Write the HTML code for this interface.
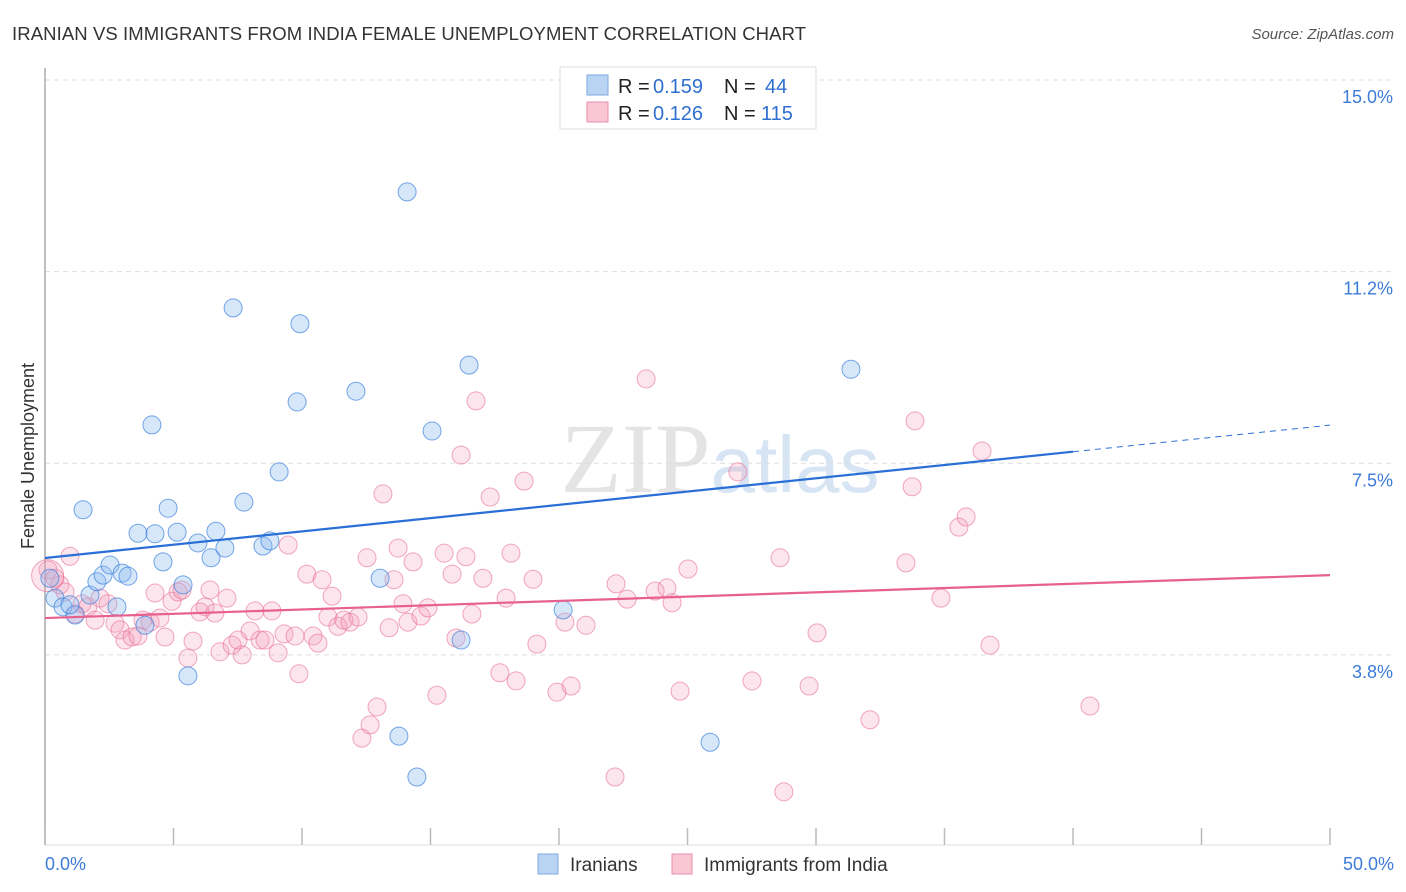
<!DOCTYPE html>
<html><head><meta charset="utf-8"><style>
body{margin:0;background:#fff;font-family:"Liberation Sans",sans-serif;}
#wrap{position:relative;width:1406px;height:892px;overflow:hidden}
</style></head><body>
<div id="wrap">
<svg id="svg" width="1406" height="892" xmlns="http://www.w3.org/2000/svg">
<text x="12" y="40" font-size="18.5" fill="#333" textLength="794">IRANIAN VS IMMIGRANTS FROM INDIA FEMALE UNEMPLOYMENT CORRELATION CHART</text>
<text x="1394" y="39" font-size="15" fill="#555" font-style="italic" text-anchor="end">Source: ZipAtlas.com</text>
<text x="720" y="492" font-size="100" fill="#e4e4e4" text-anchor="middle" font-family="Liberation Serif">ZIP<tspan fill="#d6e4f4" font-family="Liberation Sans" font-size="80">atlas</tspan></text>
<text transform="translate(34,456) rotate(-90)" font-size="18" fill="#333" text-anchor="middle">Female Unemployment</text>
<g id="grid"></g><g id="pts"></g><g id="lines"></g>
<g>
<rect x="560" y="67" width="256" height="62" fill="#fff" stroke="#ddd"/>
<rect x="587" y="75" width="21" height="20" fill="#b9d3f3" stroke="#7aa7e0"/>
<rect x="587" y="102" width="21" height="20" fill="#f9c6d4" stroke="#eb8fab"/>
<text y="93" font-size="20" fill="#222"><tspan x="618">R =</tspan><tspan x="653" fill="#2f6fd0">0.159</tspan><tspan x="724">N =</tspan><tspan x="765" fill="#2f6fd0">44</tspan></text>
<text y="120" font-size="20" fill="#222"><tspan x="618">R =</tspan><tspan x="653" fill="#2f6fd0">0.126</tspan><tspan x="724">N =</tspan><tspan x="761" fill="#2f6fd0">115</tspan></text>
</g>
<g>
<rect x="538" y="854" width="20" height="20" fill="#b9d3f3" stroke="#7aa7e0"/>
<text x="570" y="871" font-size="19" fill="#333">Iranians</text>
<rect x="672" y="854" width="20" height="20" fill="#f9c6d4" stroke="#eb8fab"/>
<text x="704" y="871" font-size="19" fill="#333">Immigrants from India</text>
</g>
</svg>
</div>
<script>
const yTicks=[15.0,11.25,7.5,3.75];
const yTickLabels=["15.0%","11.2%","7.5%","3.8%"];
const xLabels=["0.0%","50.0%"];
const blueX=[0.39,0.70,1.17,1.48,1.75,2.02,2.26,2.53,2.80,3.00,3.23,3.62,3.89,4.16,4.28,4.59,4.79,5.14,5.37,5.56,5.95,6.46,6.65,7.00,7.32,7.74,8.48,8.75,9.11,9.81,9.92,12.10,13.04,13.77,14.09,14.47,15.06,16.19,16.50,20.16,25.88,31.36,0.19,0.97];
const blueY=[4.86,4.69,4.53,6.59,4.92,5.18,5.31,5.51,4.69,5.35,5.29,6.13,4.33,8.25,6.12,5.57,6.62,6.15,5.12,3.34,5.94,5.65,6.17,5.84,10.54,6.74,5.88,5.98,7.33,8.70,10.23,8.91,5.25,2.16,12.81,1.36,8.13,4.04,9.42,4.63,2.04,9.34,5.25,4.73];
const pinkX=[0.12,0.39,0.58,0.78,0.97,1.17,1.44,1.67,1.95,2.14,2.45,2.72,2.92,3.11,3.39,3.62,3.81,4.09,4.28,4.47,4.67,4.94,5.18,5.33,5.56,5.76,6.03,6.23,6.42,6.61,6.81,7.08,7.28,7.51,7.67,7.98,8.17,8.37,8.56,8.83,9.07,9.30,9.46,9.73,9.88,10.19,10.43,10.62,10.78,11.01,11.17,11.40,11.63,11.87,12.18,12.33,12.53,12.65,12.92,13.15,13.39,13.58,13.74,13.93,14.12,14.32,14.63,14.90,15.25,15.53,15.84,15.99,16.19,16.38,16.61,16.77,17.04,17.32,17.70,17.94,18.13,18.33,18.64,18.99,19.14,19.92,20.23,20.47,21.05,22.18,22.22,22.65,23.39,23.74,24.20,24.40,24.71,25.02,26.96,27.51,28.60,28.75,29.73,30.04,32.10,33.50,33.74,33.85,34.86,35.56,35.84,36.46,36.77,40.66,0.1];
const pinkY=[5.41,5.25,5.12,4.98,5.68,4.55,4.75,4.69,4.43,4.86,4.75,4.37,4.24,4.04,4.10,4.12,4.43,4.39,4.96,4.47,4.10,4.80,4.98,5.02,3.69,4.02,4.59,4.69,5.02,4.57,3.81,4.86,3.94,4.04,3.75,4.22,4.61,4.04,4.04,4.61,3.79,4.16,5.90,4.12,3.38,5.33,4.12,3.98,5.22,4.49,4.90,4.31,4.43,4.39,4.49,2.12,5.65,2.38,2.73,6.90,4.28,5.22,5.84,4.75,4.39,5.57,4.51,4.67,2.96,5.74,5.33,4.08,7.66,5.67,4.55,8.72,5.25,6.84,3.40,4.86,5.74,3.24,7.15,5.23,3.96,3.02,4.39,3.14,4.33,1.36,5.14,4.84,9.15,5.00,5.06,4.77,3.04,5.43,7.33,3.24,5.65,1.07,3.14,4.18,2.48,5.55,7.04,8.33,4.86,6.25,6.45,7.74,3.94,2.75,5.3];
const blueTrend=[5.646,0.052];
const pinkTrend=[4.47,0.0168];
const NS="http://www.w3.org/2000/svg";
const X0=45,X1=1330,YT=80,PPU=51.1;
const sx=v=>X0+(X1-X0)*v/50;
const sy=v=>YT+(15-v)*PPU;
function mk(tag,attrs,parent){const e=document.createElementNS(NS,tag);for(const k in attrs)e.setAttribute(k,attrs[k]);parent.appendChild(e);return e;}
const grid=document.getElementById('grid');
yTicks.forEach((t,i)=>{
  const l=mk('line',{x1:45,x2:1394,y1:sy(t),y2:sy(t),stroke:'#ddd','stroke-dasharray':'5,4'},grid);
  
  
  const tx=mk('text',{x:1393,y:sy(t)+23,'font-size':18,fill:'#3d7bd9','text-anchor':'end'},grid);
  tx.textContent=yTickLabels[i];
  
  
});
const ax=mk('line',{x1:45,x2:45,y1:68,y2:845,stroke:'#aaa','stroke-width':1.5},grid);


const bx=mk('line',{x1:45,x2:1330,y1:845,y2:845,stroke:'#ddd'},grid);


for(let i=0;i<=10;i++){
  const t=mk('line',{x1:sx(i*5),x2:sx(i*5),y1:828,y2:845,stroke:'#bbb','stroke-width':1.5},grid);
  
  
}
[[0,'start',45],[50,'end',1394]].forEach((d,i)=>{
  const tx=mk('text',{x:d[2],y:870,'font-size':18,fill:'#3d7bd9','text-anchor':d[1]},grid);
  tx.textContent=xLabels[i];
  
  
});
const pts=document.getElementById('pts');
pinkX.forEach((x,i)=>{
  const big=i===pinkX.length-1;
  const c=mk('circle',{cx:sx(x),cy:sy(pinkY[i]),r:big?16:9,fill:'rgba(244,150,180,0.25)',stroke:'rgba(232,110,150,0.6)','stroke-width':1},pts);
  
  
});
blueX.forEach((x,i)=>{
  const c=mk('circle',{cx:sx(x),cy:sy(blueY[i]),r:9,fill:'rgba(140,185,240,0.35)',stroke:'rgba(60,130,220,0.7)','stroke-width':1},pts);
  
  
});
const lines=document.getElementById('lines');
const b1=mk('line',{x1:sx(0),y1:sy(blueTrend[0]),x2:sx(40),y2:sy(blueTrend[0]+40*blueTrend[1]),stroke:'#2a6fd6','stroke-width':2.2},lines);


const b2=mk('line',{x1:sx(40),y1:sy(blueTrend[0]+40*blueTrend[1]),x2:sx(50),y2:sy(blueTrend[0]+50*blueTrend[1]),stroke:'#2a6fd6','stroke-width':1,'stroke-dasharray':'6,5'},lines);


const p1=mk('line',{x1:sx(0),y1:sy(pinkTrend[0]),x2:sx(50),y2:sy(pinkTrend[0]+50*pinkTrend[1]),stroke:'#e8608f','stroke-width':2.2},lines);


</script>
</body></html>
